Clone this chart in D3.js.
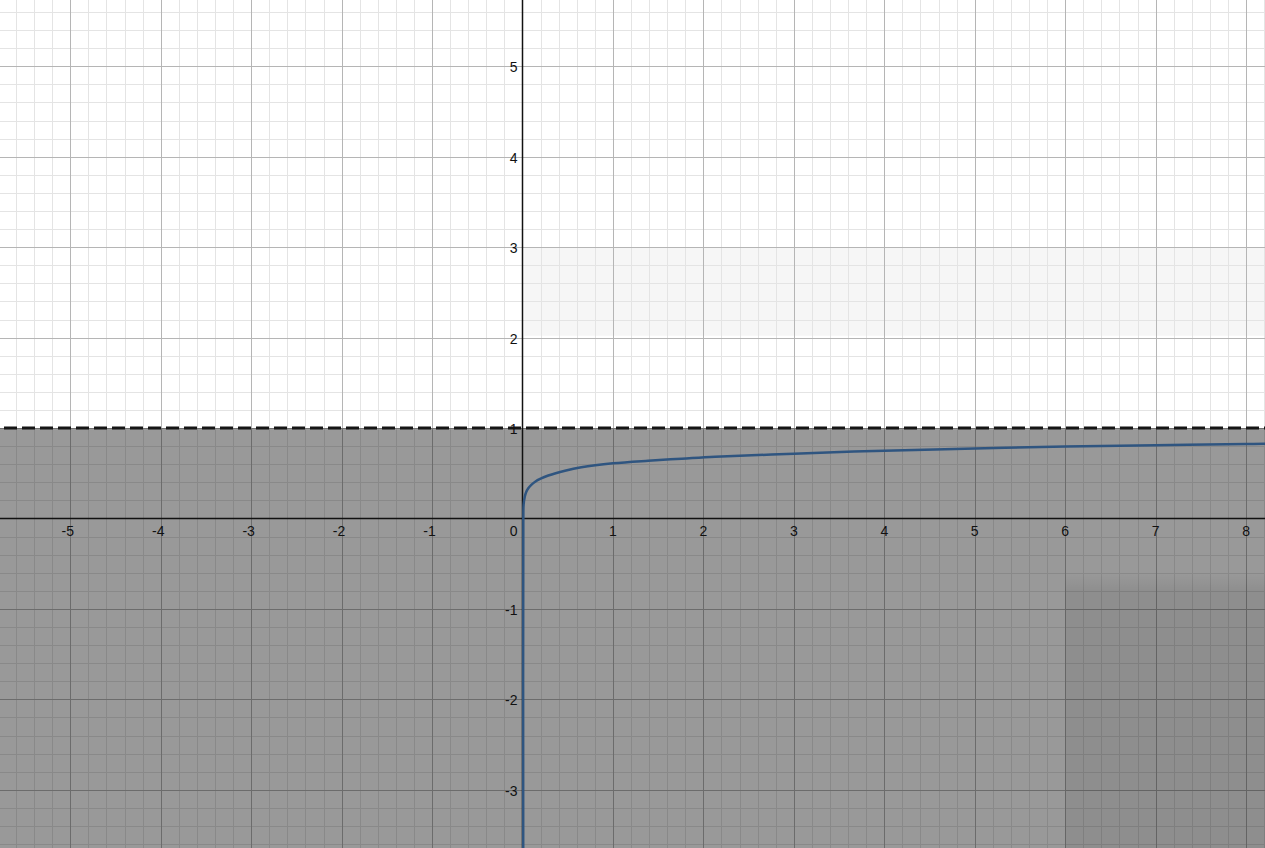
<!DOCTYPE html>
<html><head><meta charset="utf-8">
<script src="https://cdn.jsdelivr.net/npm/d3@7"></script>
<style>html,body{margin:0;padding:0;background:#fff;overflow:hidden}svg{display:block}</style>
</head><body>
<script>
// Data
const xTicks = [-5,-4,-3,-2,-1,1,2,3,4,5,6,7,8];
const yTicks = [-3,-2,-1,1,2,3,4,5];
const curveX = [0.008, 0.009, 0.012, 0.025, 0.04, 0.064, 0.1, 0.14, 0.2, 0.285, 0.47, 0.65, 1, 1.39, 1.76, 2.13, 3, 4, 5, 6, 7, 8, 8.3];
const curveY = [-3.7, 0.0, 0.15, 0.24, 0.29, 0.334, 0.375, 0.407, 0.44, 0.475, 0.528, 0.566, 0.61, 0.639, 0.661, 0.683, 0.716, 0.75, 0.774, 0.795, 0.81, 0.823, 0.827];
const boundaryY = 1;          // dashed boundary, shaded below (y < 1)
const darkBlock = {x0: 6, y0: -0.6, y1: -0.8}; // slightly darker overlap area (blurred top edge)
const lightBand = {x0: 0.02, y0: 2.02, y1: 3};

const W = 1265, H = 848;
const x0px = 522.5, y0px = 518.5, unit = 90.45;
const x = d3.scaleLinear().domain([-x0px/unit, (W - x0px)/unit]).range([0, W]);
const y = d3.scaleLinear().domain([-(H - y0px)/unit, y0px/unit]).range([H, 0]);

const svg = d3.select("body").append("svg").attr("width", W).attr("height", H);
const defs = svg.append("defs");
const grad = defs.append("linearGradient").attr("id", "darkTop").attr("x1", 0).attr("x2", 0).attr("y1", 0).attr("y2", 1);
grad.append("stop").attr("offset", "0%").attr("stop-color", "#000").attr("stop-opacity", 0);
grad.append("stop").attr("offset", "100%").attr("stop-color", "#000").attr("stop-opacity", 0.07);

// light band
svg.append("rect")
  .attr("x", x(lightBand.x0)).attr("y", y(lightBand.y1))
  .attr("width", W - x(lightBand.x0)).attr("height", y(lightBand.y0) - y(lightBand.y1))
  .attr("fill", "#f6f6f6");

// grid
const [xd0, xd1] = x.domain(), [yd0, yd1] = y.domain();
const notInt = d => Math.abs(Math.round(d) - d) > 1e-6;
const minorX = d3.range(Math.ceil(xd0*5), Math.floor(xd1*5)+1).map(d => d/5).filter(notInt);
const minorY = d3.range(Math.ceil(yd0*5), Math.floor(yd1*5)+1).map(d => d/5).filter(notInt);
const majorX = d3.range(Math.ceil(xd0), Math.floor(xd1)+1).filter(d => d !== 0);
const majorY = d3.range(Math.ceil(yd0), Math.floor(yd1)+1).filter(d => d !== 0);

const g = svg.append("g").attr("shape-rendering", "crispEdges");
g.selectAll(".mx").data(minorX).join("line")
  .attr("x1", d => Math.round(x(d)) + 0.5).attr("x2", d => Math.round(x(d)) + 0.5)
  .attr("y1", 0).attr("y2", H).attr("stroke", "#e4e4e4").attr("stroke-width", 1);
g.selectAll(".my").data(minorY).join("line")
  .attr("y1", d => Math.round(y(d)) + 0.5).attr("y2", d => Math.round(y(d)) + 0.5)
  .attr("x1", 0).attr("x2", W).attr("stroke", "#e4e4e4").attr("stroke-width", 1);
g.selectAll(".Mx").data(majorX).join("line")
  .attr("x1", d => Math.round(x(d)) + 0.5).attr("x2", d => Math.round(x(d)) + 0.5)
  .attr("y1", 0).attr("y2", H).attr("stroke", "#b5b5b5").attr("stroke-width", 1);
g.selectAll(".My").data(majorY).join("line")
  .attr("y1", d => Math.round(y(d)) + 0.5).attr("y2", d => Math.round(y(d)) + 0.5)
  .attr("x1", 0).attr("x2", W).attr("stroke", "#b5b5b5").attr("stroke-width", 1);

// shading y < 1
svg.append("rect")
  .attr("x", 0).attr("y", y(boundaryY)).attr("width", W).attr("height", H - y(boundaryY))
  .attr("fill", "#000").attr("fill-opacity", 0.4);
// darker block with soft top edge
svg.append("rect")
  .attr("x", x(darkBlock.x0)).attr("y", y(darkBlock.y0))
  .attr("width", W - x(darkBlock.x0)).attr("height", y(darkBlock.y1) - y(darkBlock.y0))
  .attr("fill", "url(#darkTop)");
svg.append("rect")
  .attr("x", x(darkBlock.x0)).attr("y", y(darkBlock.y1))
  .attr("width", W - x(darkBlock.x0)).attr("height", H - y(darkBlock.y1))
  .attr("fill", "#000").attr("fill-opacity", 0.07);

// axes
svg.append("line").attr("x1", 0).attr("x2", W).attr("y1", y(0)).attr("y2", y(0))
  .attr("stroke", "#111").attr("stroke-width", 1.5);
svg.append("line").attr("x1", x(0)).attr("x2", x(0)).attr("y1", 0).attr("y2", H)
  .attr("stroke", "#111").attr("stroke-width", 1.5);

// dashed boundary
svg.append("line").attr("x1", 0).attr("x2", W).attr("y1", y(boundaryY)).attr("y2", y(boundaryY))
  .attr("stroke", "#151515").attr("stroke-width", 3).attr("stroke-dasharray", "13,5").attr("stroke-dashoffset", 14);

// curve
const pts = curveX.map((d, i) => [d, curveY[i]]);
svg.append("path").datum(pts)
  .attr("d", d3.line().x(d => x(d[0])).y(d => y(d[1])).curve(d3.curveCatmullRom.alpha(0.5)))
  .attr("fill", "none").attr("stroke", "#2f5580").attr("stroke-width", 2.5);

// labels
const font = "'Liberation Sans', Arial, sans-serif";
svg.selectAll(".xl").data(xTicks).join("text")
  .attr("x", d => x(d) + (d < 0 ? -2.5 : 0)).attr("y", y(0) + 17)
  .attr("text-anchor", "middle").attr("font-family", font).attr("font-size", 14).attr("fill", "#111")
  .text(d => d < 0 ? "-" + Math.abs(d) : d);
svg.selectAll(".yl").data(yTicks).join("text")
  .attr("x", x(0) - 5).attr("y", d => y(d) + 6)
  .attr("text-anchor", "end").attr("font-family", font).attr("font-size", 14).attr("fill", "#111")
  .text(d => d < 0 ? "-" + Math.abs(d) : d);
svg.append("text").attr("x", x(0) - 5).attr("y", y(0) + 17)
  .attr("text-anchor", "end").attr("font-family", font).attr("font-size", 14).attr("fill", "#111").text("0");
</script>
</body></html>
